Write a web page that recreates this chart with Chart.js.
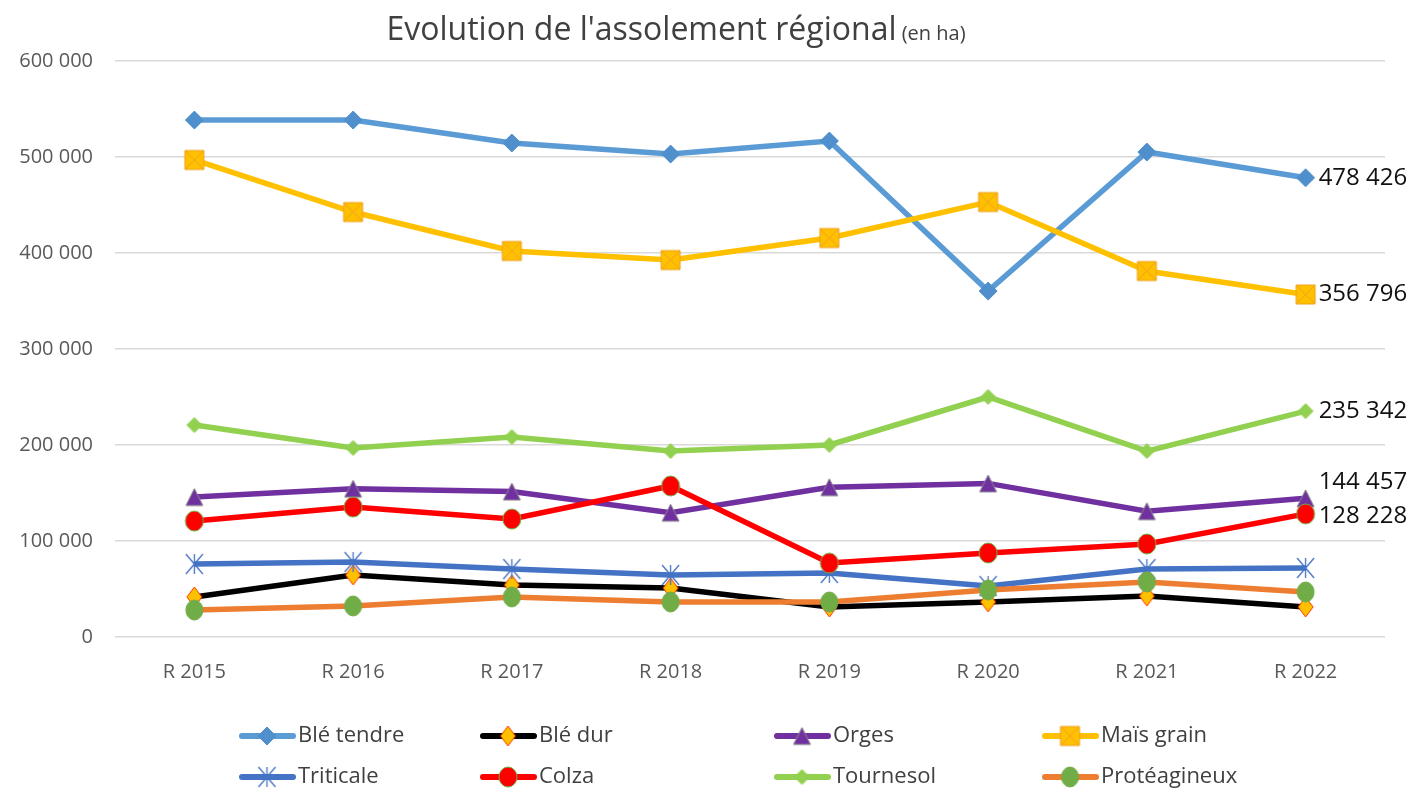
<!DOCTYPE html>
<html>
<head>
<meta charset="utf-8">
<script src="https://cdn.jsdelivr.net/npm/chart.js@4.4.0/dist/chart.umd.min.js"></script>
<style>
  html, body { margin: 0; background: #fff; }
</style>
</head>
<body>
<canvas id="assolementChart" width="1414" height="791"></canvas>
<script>
// Data
var campagnes = ['R 2015', 'R 2016', 'R 2017', 'R 2018', 'R 2019', 'R 2020', 'R 2021', 'R 2022'];
var yTicks = [0, 100000, 200000, 300000, 400000, 500000, 600000];

var bleTendre    = [538500, 538500, 514600, 503100, 516700, 360400, 505200, 478426];
var bleDur       = [41700, 64600, 54200, 51000, 31300, 36500, 42700, 31300];
var orges        = [145800, 154500, 151500, 129500, 156000, 160000, 131000, 144457];
var maisGrain    = [496900, 442700, 402100, 392700, 415600, 453100, 381200, 356796];
var triticale    = [76000, 78100, 70800, 64600, 66700, 53100, 70800, 71900];
var colza        = [120800, 135400, 122900, 157300, 77000, 87500, 96900, 128228];
var tournesol    = [220800, 196900, 208300, 193700, 200000, 250000, 193700, 235342];
var proteagineux = [28100, 32300, 41700, 36500, 36500, 49000, 57300, 46900];

var FONT = "'Open Sans', 'Noto Sans', sans-serif";

// builds a small canvas used as a point marker (and in the legend)
function makeMarker(kind, fill, stroke, w, h) {
  var c = document.createElement('canvas');
  c.width = w + 4;
  c.height = h + 4;
  var g = c.getContext('2d');
  var cx = c.width / 2, cy = c.height / 2;
  g.fillStyle = fill;
  g.strokeStyle = stroke;
  g.lineWidth = 1;
  g.beginPath();
  if (kind === 'diamond') {
    g.moveTo(cx, cy - h / 2);
    g.lineTo(cx + w / 2, cy);
    g.lineTo(cx, cy + h / 2);
    g.lineTo(cx - w / 2, cy);
    g.closePath();
    g.fill(); g.stroke();
  } else if (kind === 'triangle') {
    g.moveTo(cx, cy - h / 2);
    g.lineTo(cx + w / 2, cy + h / 2);
    g.lineTo(cx - w / 2, cy + h / 2);
    g.closePath();
    g.fill(); g.stroke();
  } else if (kind === 'ellipse') {
    g.ellipse(cx, cy, w / 2, h / 2, 0, 0, Math.PI * 2);
    g.fill(); g.stroke();
  } else if (kind === 'squareX') {
    g.rect(cx - w / 2, cy - h / 2, w, h);
    g.fill(); g.stroke();
    g.beginPath();
    g.moveTo(cx - w / 2, cy - h / 2); g.lineTo(cx + w / 2, cy + h / 2);
    g.moveTo(cx + w / 2, cy - h / 2); g.lineTo(cx - w / 2, cy + h / 2);
    g.stroke();
  } else if (kind === 'star') {
    g.lineWidth = 1.3;
    g.moveTo(cx, cy - h / 2); g.lineTo(cx, cy + h / 2);
    g.moveTo(cx - w / 2, cy - h / 2); g.lineTo(cx + w / 2, cy + h / 2);
    g.moveTo(cx + w / 2, cy - h / 2); g.lineTo(cx - w / 2, cy + h / 2);
    g.stroke();
  }
  return c;
}

var series = [
  { label: 'Blé tendre', data: bleTendre, color: '#5B9BD5', marker: makeMarker('diamond', '#4F8FCB', '#4F8FCB', 18, 18), endLabel: 0 },
  { label: 'Blé dur', data: bleDur, color: '#000000', marker: makeMarker('diamond', '#FFC000', '#FF3300', 15, 20) },
  { label: 'Orges', data: orges, color: '#7030A0', marker: makeMarker('triangle', '#7030A0', '#8a8a8a', 17, 17), endLabel: -16 },
  { label: 'Maïs grain', data: maisGrain, color: '#FFC000', marker: makeMarker('squareX', '#FFC000', '#F0A020', 19, 19), endLabel: 0 },
  { label: 'Triticale', data: triticale, color: '#4472C4', marker: makeMarker('star', '#4472C4', '#4472C4', 17, 20) },
  { label: 'Colza', data: colza, color: '#FF0000', marker: makeMarker('ellipse', '#FF0000', '#70AD47', 18, 20), endLabel: 2 },
  { label: 'Tournesol', data: tournesol, color: '#92D050', marker: makeMarker('diamond', '#92D050', '#92D050', 15, 15), endLabel: 0 },
  { label: 'Protéagineux', data: proteagineux, color: '#ED7D31', marker: makeMarker('ellipse', '#70AD47', '#70AD47', 17, 20) }
];

function fmt(v) {
  return String(Math.round(v)).replace(/\B(?=(\d{3})+(?!\d))/g, ' ');
}

// title, legend and end-of-line values
var decorations = {
  id: 'decorations',
  afterDraw: function (chart) {
    var ctx = chart.ctx;
    ctx.save();

    // title
    ctx.textBaseline = 'alphabetic';
    ctx.fillStyle = '#404040';
    var t1 = "Evolution de l'assolement régional";
    var t2 = ' (en ha)';
    ctx.font = '20px ' + FONT;
    var w2 = ctx.measureText(t2).width;
    ctx.font = '32px ' + FONT;
    var w1 = ctx.measureText(t1).width;
    var tx = 676 - (w1 + w2) / 2;
    ctx.textAlign = 'left';
    ctx.fillText(t1, tx, 40);
    ctx.font = '20px ' + FONT;
    ctx.fillText(t2, tx + w1, 40);

    // values at the end of some lines
    ctx.font = '24px ' + FONT;
    ctx.fillStyle = '#111';
    ctx.textBaseline = 'middle';
    chart.data.datasets.forEach(function (ds, i) {
      if (series[i].endLabel === undefined) return;
      var meta = chart.getDatasetMeta(i);
      var pt = meta.data[meta.data.length - 1];
      ctx.fillText(fmt(ds.data[ds.data.length - 1]), pt.x + 13, pt.y + series[i].endLabel);
    });

    // legend: 2 rows x 4 columns
    var colText = [297, 538, 832, 1100];
    var rowY = [736, 777];
    ctx.font = '22px ' + FONT;
    ctx.fillStyle = '#404040';
    series.forEach(function (s, i) {
      var tx0 = colText[i % 4];
      var y = rowY[Math.floor(i / 4)];
      ctx.strokeStyle = s.color;
      ctx.lineWidth = 6;
      ctx.lineCap = 'round';
      ctx.beginPath();
      ctx.moveTo(tx0 - 55, y);
      ctx.lineTo(tx0 - 4, y);
      ctx.stroke();
      ctx.drawImage(s.marker, tx0 - 30 - s.marker.width / 2, y - s.marker.height / 2);
      ctx.fillText(s.label, tx0 + 1, y);
    });
    ctx.restore();
  }
};

var ctx = document.getElementById('assolementChart').getContext('2d');
var assolementChart = new Chart(ctx, {
  type: 'line',
  data: {
    labels: campagnes,
    datasets: series.map(function (s, i) {
      return {
        label: s.label,
        data: s.data,
        borderColor: s.color,
        backgroundColor: s.color,
        borderWidth: 5.5,
        pointStyle: s.marker,
        pointRadius: 9,
        tension: 0,
        order: series.length - i
      };
    })
  },
  options: {
    responsive: false,
    animation: false,
    events: [],
    layout: { padding: { top: 61, right: 29, left: 0, bottom: 0 } },
    plugins: {
      legend: { display: false },
      title: { display: false },
      tooltip: { enabled: false }
    },
    scales: {
      x: {
        offset: true,
        grid: { display: false },
        border: { display: false },
        ticks: { color: '#595959', font: { family: FONT, size: 20 }, padding: 15 },
        afterFit: function (scale) { scale.height = 154; }
      },
      y: {
        min: yTicks[0],
        max: yTicks[yTicks.length - 1],
        afterBuildTicks: function (scale) {
          scale.ticks = yTicks.map(function (v) { return { value: v }; });
        },
        grid: { color: '#d9d9d9', lineWidth: 1.5, drawTicks: false },
        border: { display: false },
        ticks: {
          color: '#595959',
          font: { family: FONT, size: 20 },
          padding: 22,
          callback: function (v) { return fmt(v); }
        },
        afterFit: function (scale) { scale.width = 115; }
      }
    }
  },
  plugins: [decorations]
});
</script>
</body>
</html>
